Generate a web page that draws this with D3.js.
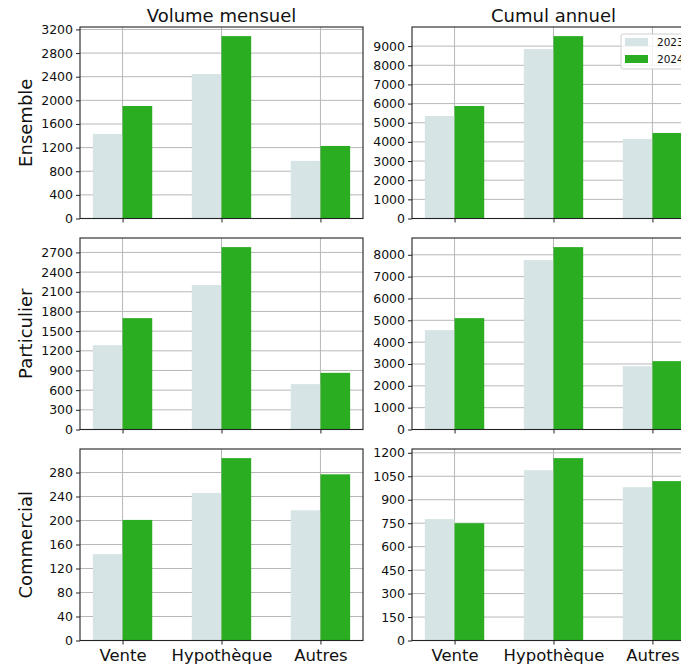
<!DOCTYPE html>
<html>
<head>
<meta charset="utf-8">
<script src="https://cdn.jsdelivr.net/npm/d3@7"></script>
<style>
  body { margin: 0; background: #fff; }
  svg { font-family: "DejaVu Sans", sans-serif; }
</style>
</head>
<body>
<div id="chart"></div>
<script>
// Data
var categories = ["Vente", "Hypothèque", "Autres"];
var years = ["2023", "2024"];
var rowLabels = ["Ensemble", "Particulier", "Commercial"];
var colTitles = ["Volume mensuel", "Cumul annuel"];

// values per panel: [2023 series, 2024 series]
var ensembleMensuel = [[1431, 2445, 975], [1904, 3087, 1228]];
var ensembleCumul = [[5352, 8844, 4153], [5873, 9522, 4465]];
var particulierMensuel = [[1286, 2202, 692], [1698, 2781, 864]];
var particulierCumul = [[4550, 7756, 2901], [5099, 8351, 3130]];
var commercialMensuel = [[144, 246, 217], [201, 304, 277]];
var commercialCumul = [[776, 1089, 980], [750, 1166, 1019]];

// tick labels per panel
var ticksEnsembleMensuel = [0, 400, 800, 1200, 1600, 2000, 2400, 2800, 3200];
var ticksEnsembleCumul = [0, 1000, 2000, 3000, 4000, 5000, 6000, 7000, 8000, 9000];
var ticksParticulierMensuel = [0, 300, 600, 900, 1200, 1500, 1800, 2100, 2400, 2700];
var ticksParticulierCumul = [0, 1000, 2000, 3000, 4000, 5000, 6000, 7000, 8000];
var ticksCommercialMensuel = [0, 40, 80, 120, 160, 200, 240, 280];
var ticksCommercialCumul = [0, 150, 300, 450, 600, 750, 900, 1050, 1200];

var colors = ["#d6e4e5", "#2aad21"];

var panels = [
  [ensembleMensuel, ticksEnsembleMensuel], [ensembleCumul, ticksEnsembleCumul],
  [particulierMensuel, ticksParticulierMensuel], [particulierCumul, ticksParticulierCumul],
  [commercialMensuel, ticksCommercialMensuel], [commercialCumul, ticksCommercialCumul]
];

// Layout
var svgWidth = 681, svgHeight = 664;
var colX = [80, 412];
var rowY = [27, 238, 449];
var width = 283, height = 191.5;

var svg = d3.select("#chart").append("svg")
  .attr("width", svgWidth)
  .attr("height", svgHeight);

var x = d3.scaleLinear().domain([-0.43, 2.43]).range([0, width]);
var barW = x(0.3) - x(0);

panels.forEach(function(p, k) {
  var r = Math.floor(k / 2), c = k % 2;
  var vals = p[0], ticks = p[1];
  var ymax = d3.max(vals, s => d3.max(s)) * 1.05;
  var y = d3.scaleLinear().domain([0, ymax]).range([height, 0]);

  var g = svg.append("g")
    .attr("transform", `translate(${colX[c]}, ${rowY[r]})`);

  // grid
  g.append("g").selectAll("line.h")
    .data(ticks).enter().append("line")
    .attr("x1", 0).attr("x2", width)
    .attr("y1", d => y(d)).attr("y2", d => y(d))
    .attr("stroke", "#b8b8b8").attr("stroke-width", 1);
  g.append("g").selectAll("line.v")
    .data(categories).enter().append("line")
    .attr("x1", (d, i) => x(i)).attr("x2", (d, i) => x(i))
    .attr("y1", 0).attr("y2", height)
    .attr("stroke", "#b8b8b8").attr("stroke-width", 1);

  // bars
  vals.forEach(function(series, s) {
    g.append("g").selectAll("rect")
      .data(series).enter().append("rect")
      .attr("x", (d, i) => x(i + (s === 0 ? -0.3 : 0)))
      .attr("width", barW)
      .attr("y", d => y(d))
      .attr("height", d => height - y(d))
      .attr("fill", colors[s]);
  });

  // axes
  var leftAxis = d3.axisLeft(y).tickValues(ticks).tickSize(4).tickPadding(3).tickFormat(d3.format("d"));
  var ga = g.append("g").call(leftAxis);
  ga.select(".domain").remove();
  ga.selectAll("text").attr("font-size", "12.5px").attr("fill", "#111").attr("font-family", "DejaVu Sans");
  ga.selectAll("line").attr("stroke", "#222");

  var bottomAxis = d3.axisBottom(x).tickValues([0, 1, 2]).tickSize(4).tickPadding(5)
    .tickFormat(i => r === 2 ? categories[i] : "");
  var gb = g.append("g").attr("transform", `translate(0, ${height})`).call(bottomAxis);
  gb.select(".domain").remove();
  gb.selectAll("text").attr("font-size", "16.5px").attr("fill", "#111").attr("font-family", "DejaVu Sans");
  gb.selectAll("line").attr("stroke", "#222");

  // spines
  g.append("rect")
    .attr("width", width).attr("height", height)
    .attr("fill", "none").attr("stroke", "#222").attr("stroke-width", 1.1);

  if (r === 0) {
    g.append("text")
      .attr("x", width / 2).attr("y", -5)
      .attr("text-anchor", "middle")
      .attr("font-size", "18px").attr("fill", "#111")
      .text(colTitles[c]);
  }
  if (c === 0) {
    g.append("text")
      .attr("transform", `translate(${-48}, ${height / 2}) rotate(-90)`)
      .attr("text-anchor", "middle")
      .attr("font-size", "18px").attr("fill", "#111")
      .text(rowLabels[r]);
  }

  // legend in top-right panel
  if (k === 1) {
    var lg = g.append("g").attr("transform", `translate(${209}, 7)`);
    lg.append("rect")
      .attr("width", 80).attr("height", 35).attr("rx", 2)
      .attr("fill", "#fff").attr("fill-opacity", 0.8)
      .attr("stroke", "#d0d0d0");
    years.forEach(function(yr, i) {
      lg.append("rect")
        .attr("x", 4).attr("y", 4 + i * 17)
        .attr("width", 23).attr("height", 8)
        .attr("fill", colors[i]);
      lg.append("text")
        .attr("x", 36).attr("y", 12 + i * 17)
        .attr("font-size", "10.5px").attr("fill", "#111")
        .text(yr);
    });
  }
});
</script>
</body>
</html>
